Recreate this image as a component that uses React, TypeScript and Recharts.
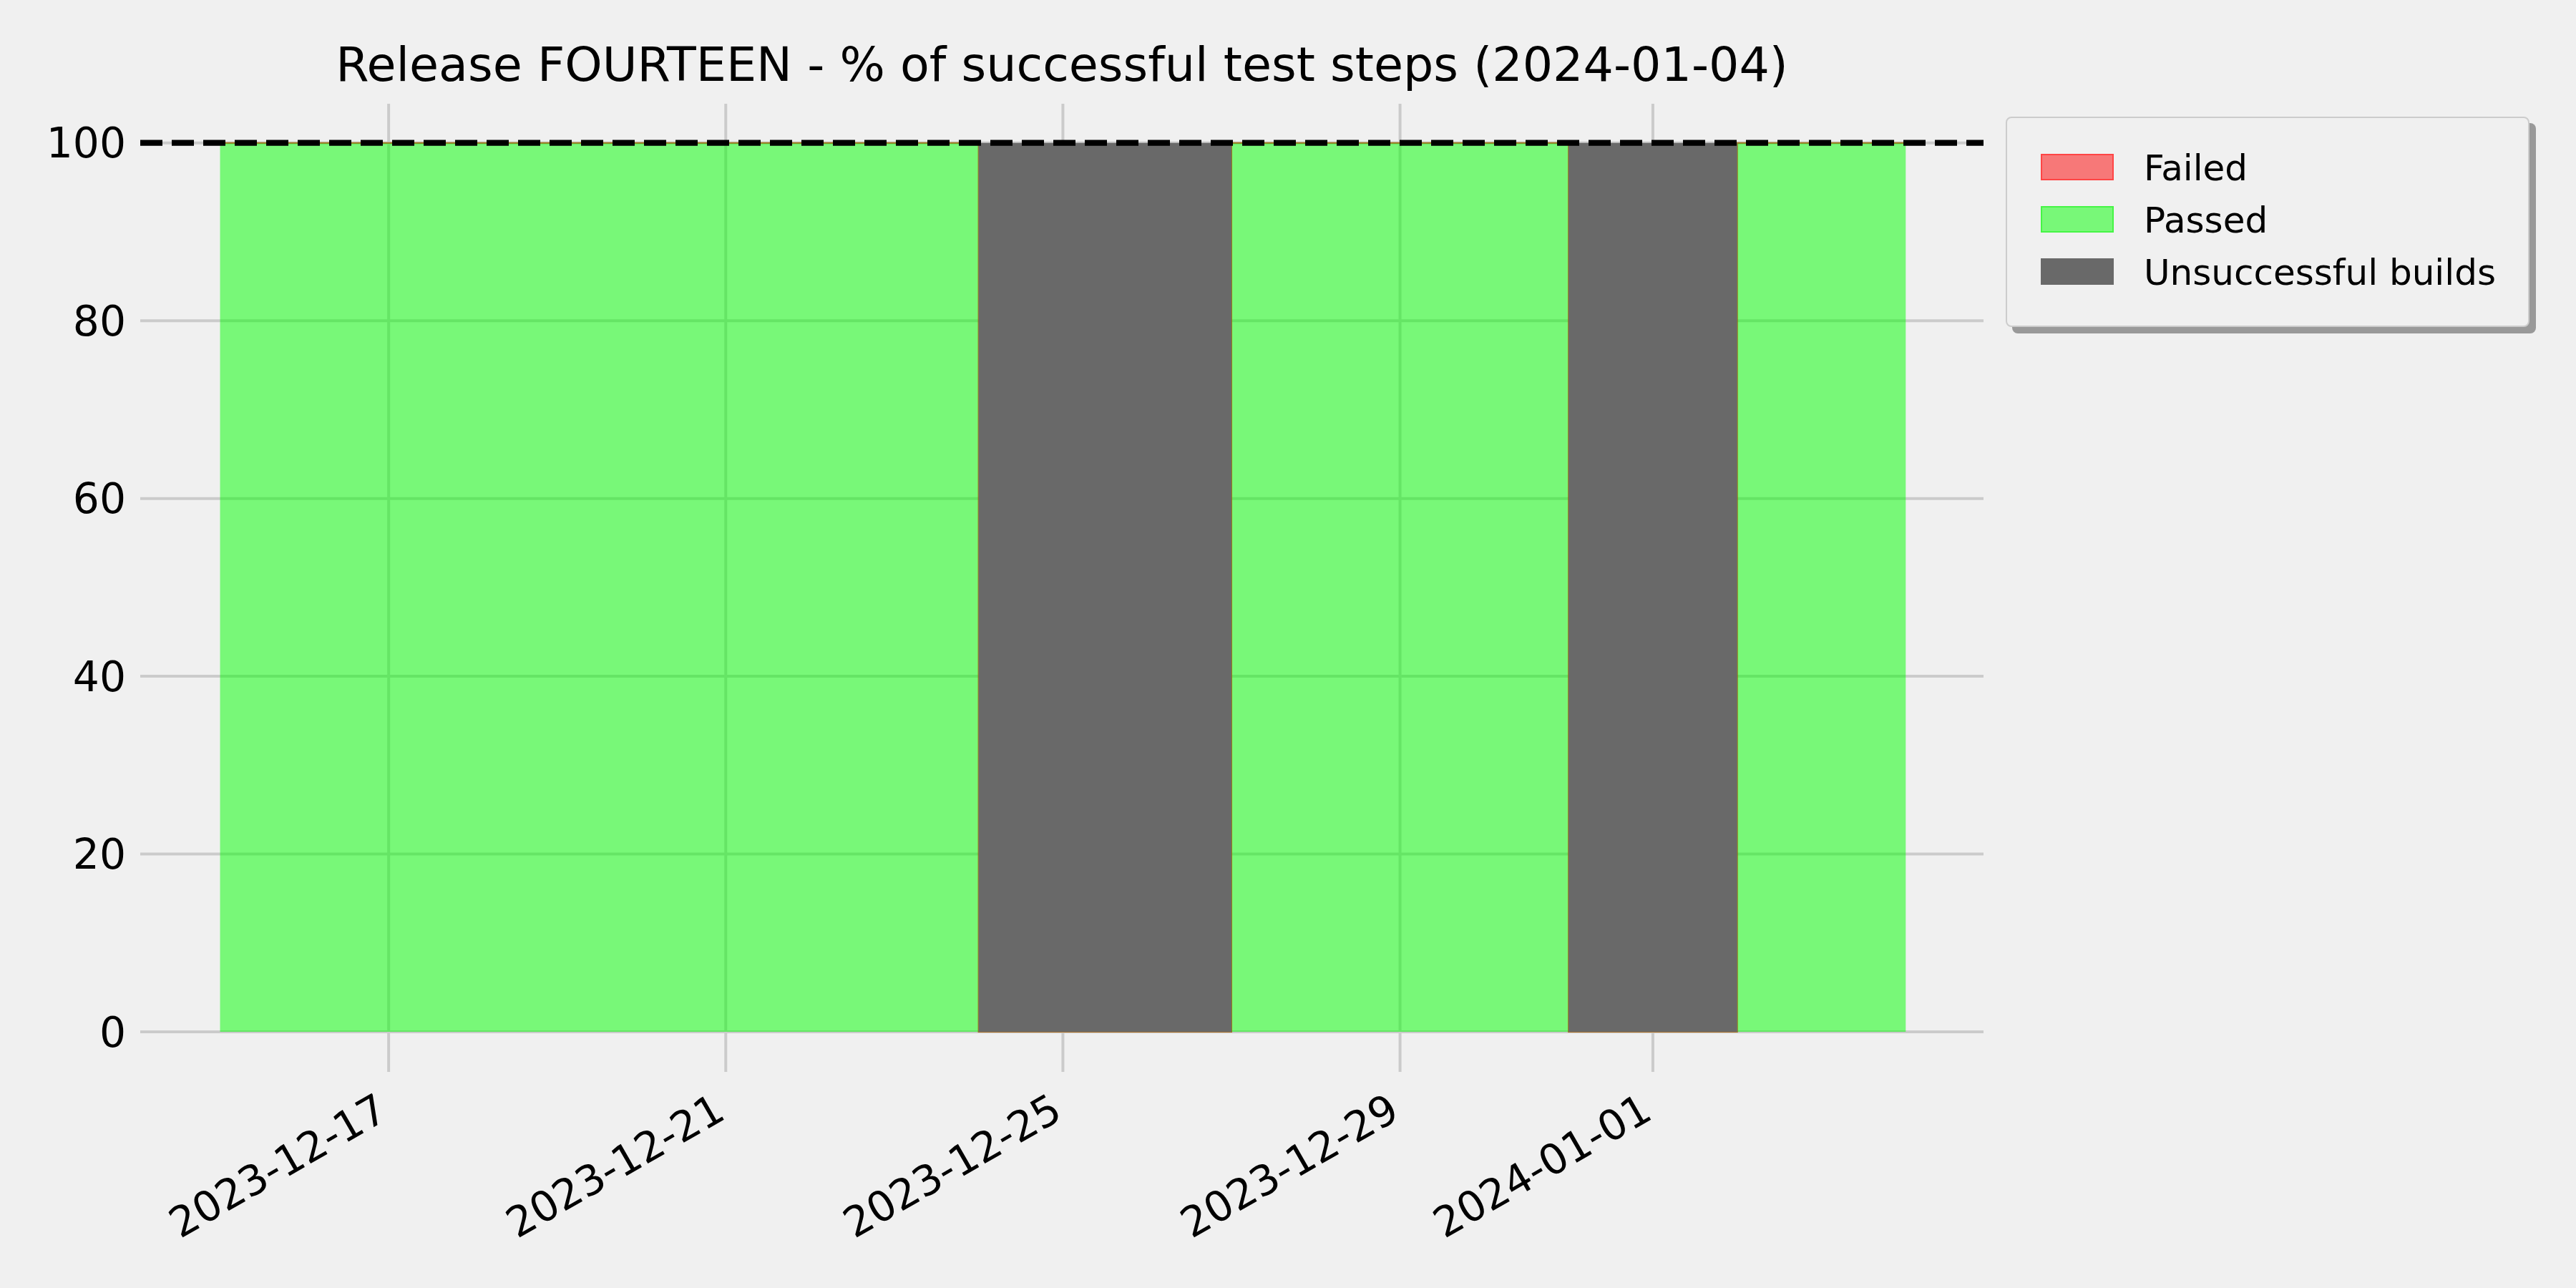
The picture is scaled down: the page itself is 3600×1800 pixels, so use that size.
import { Area, CartesianGrid, ComposedChart, Legend, ReferenceLine, XAxis, YAxis } from "recharts"

const FONTE = "'DejaVu Sans', sans-serif"

// one entry per build day; the last day only closes the step
const DIAS = [
  "2023-12-15", "2023-12-16", "2023-12-17", "2023-12-18", "2023-12-19", "2023-12-20", "2023-12-21",
  "2023-12-22", "2023-12-23", "2023-12-24", "2023-12-25", "2023-12-26", "2023-12-27", "2023-12-28",
  "2023-12-29", "2023-12-30", "2023-12-31", "2024-01-01", "2024-01-02", "2024-01-03", "2024-01-04",
]
const PASSED = [100, 100, 100, 100, 100, 100, 100, 100, 100, 0, 0, 0, 100, 100, 100, 100, 0, 0, 100, 100, 100]
const FAILED = [0, 0, 0, 0, 0, 0, 0, 0, 0, 0, 0, 0, 0, 0, 0, 0, 0, 0, 0, 0, 0]
const UNSUCCESSFUL = [0, 0, 0, 0, 0, 0, 0, 0, 0, 100, 100, 100, 0, 0, 0, 0, 100, 100, 0, 0, 0]

const X_TICKS = ["2023-12-17", "2023-12-21", "2023-12-25", "2023-12-29", "2024-01-01"]
const Y_TICKS = [0, 20, 40, 60, 80, 100]
const META = 100
const TITULO = "Release FOURTEEN - % of successful test steps (2024-01-04)"
const LEGENDA = ["Failed", "Passed", "Unsuccessful builds"]

const COR: Record<string, { fill: string; borda: string }> = {
  Failed: { fill: "#f77878", borda: "#ff4545" },
  Passed: { fill: "#78f878", borda: "#45f545" },
  "Unsuccessful builds": { fill: "#696969", borda: "#696969" },
}

const DIA_MS = 86400000
const inicio = Date.parse(DIAS[0] + "T00:00:00Z")

function diaIndice(iso: string) {
  return Math.round((Date.parse(iso + "T00:00:00Z") - inicio) / DIA_MS)
}

function fmtDia(v: number) {
  return new Date(inicio + v * DIA_MS).toISOString().slice(0, 10)
}

const dados = DIAS.map((d, i) => ({
  x: diaIndice(d),
  passed: PASSED[i],
  failed: FAILED[i],
  unsuccessful: UNSUCCESSFUL[i],
}))

const xTicks = X_TICKS.map(diaIndice)

function DataTick(props: any) {
  const { x, y, payload } = props
  const px = x + 2
  const py = y + 64
  return (
    <text
      x={px}
      y={py}
      transform={`rotate(-30 ${px} ${py})`}
      textAnchor="end"
      fontSize={58.3}
      fill="#000"
      fontFamily={FONTE}
    >
      {fmtDia(payload.value)}
    </text>
  )
}

function CaixaLegenda() {
  return (
    <div
      style={{
        position: "relative",
        width: 732,
        height: 294,
        boxSizing: "border-box",
        border: "2px solid #cccccc",
        borderRadius: 8,
        background: "#f0f0f0",
        boxShadow: "9px 9px 0 #999999",
        fontFamily: FONTE,
        fontSize: 50,
        color: "#000",
      }}
    >
      {LEGENDA.map((nome, i) => (
        <div key={nome}>
          <div
            style={{
              position: "absolute",
              left: 47,
              top: 50 + i * 73,
              width: 102,
              height: 37,
              boxSizing: "border-box",
              background: COR[nome].fill,
              border: `2px solid ${COR[nome].borda}`,
            }}
          />
          <div
            style={{
              position: "absolute",
              left: 191,
              top: 52 + i * 73,
              height: 37,
              lineHeight: "37px",
              whiteSpace: "nowrap",
            }}
          >
            {nome}
          </div>
        </div>
      ))}
    </div>
  )
}

export default function App() {
  return (
    <div
      style={{
        position: "absolute",
        left: 0,
        top: 0,
        width: 3600,
        height: 1800,
        background: "#f0f0f0",
        fontFamily: FONTE,
        overflow: "hidden",
      }}
    >
      <div
        style={{
          position: "absolute",
          left: 196,
          top: 57,
          width: 2576,
          textAlign: "center",
          fontSize: 66.7,
          lineHeight: "66.7px",
          color: "#000",
          whiteSpace: "nowrap",
        }}
      >
        {TITULO}
      </div>
      <ComposedChart
        width={3600}
        height={1800}
        data={dados}
        margin={{ top: 145, right: 828, bottom: 102, left: 46 }}
      >
        <CartesianGrid stroke="#cbcbcb" strokeWidth={4} syncWithTicks />
        <XAxis
          type="number"
          dataKey="x"
          domain={[-0.947, 20.923]}
          ticks={xTicks}
          interval={0}
          tick={<DataTick />}
          tickLine={false}
          axisLine={false}
          tickSize={0}
          tickMargin={0}
          height={200}
        />
        <YAxis
          type="number"
          domain={[-4.5, 104.4]}
          ticks={Y_TICKS}
          interval={0}
          tick={{ fontSize: 58.3, fill: "#000" }}
          tickLine={false}
          axisLine={false}
          tickSize={0}
          tickMargin={20}
          width={150}
        />
        <Area
          type="stepAfter"
          dataKey="passed"
          name="Passed"
          stackId="a"
          baseValue={0}
          fill="#00ff00"
          fillOpacity={0.5}
          stroke="#00ff00"
          strokeOpacity={0.55}
          strokeWidth={2}
          dot={false}
          activeDot={false}
          isAnimationActive={false}
        />
        <Area
          type="stepAfter"
          dataKey="failed"
          name="Failed"
          stackId="a"
          baseValue={0}
          fill="#ff0000"
          fillOpacity={0.5}
          stroke="#ff0000"
          strokeOpacity={0.5}
          strokeWidth={2}
          dot={false}
          activeDot={false}
          isAnimationActive={false}
        />
        <Area
          type="stepAfter"
          dataKey="unsuccessful"
          name="Unsuccessful builds"
          baseValue={0}
          fill="#696969"
          fillOpacity={1}
          stroke="none"
          dot={false}
          activeDot={false}
          isAnimationActive={false}
        />
        <ReferenceLine y={META} stroke="#000" strokeWidth={8.3} strokeDasharray="31 13" />
        <Legend
          layout="horizontal"
          verticalAlign="middle"
          align="center"
          wrapperStyle={{ left: 2803, top: 163, width: 732, height: 294 }}
          content={() => <CaixaLegenda />}
        />
      </ComposedChart>
    </div>
  )
}
